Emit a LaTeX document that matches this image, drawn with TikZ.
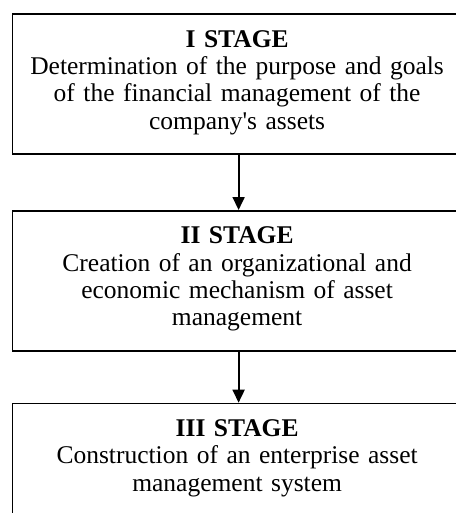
\documentclass[tikz,border=0pt]{standalone}
\usepackage{fontspec}
\setmainfont{Liberation Serif}
\usepackage{tikz}
\usetikzlibrary{arrows.meta}
\usetikzlibrary{positioning}

\begin{document}
\begin{tikzpicture}[x=1pt, y=-1pt,
    stage/.style={draw, line width=1.7pt, text width=440pt, inner xsep=4.75pt, inner ysep=0pt, align=center, text height=33pt, text depth=107pt, font=\fontsize{25.5}{27.3}\selectfont},
    flow/.style={line width=1.8pt, -{Triangle[length=13pt, width=12pt]}}]
    \useasboundingbox (0, 0) rectangle (455, 513);

    \node [stage, anchor=north west] (stageone) at (11.5, 13.3) {\textbf{I STAGE}\\Determination of the purpose and goals\\of the financial management of the\\company\textquotesingle s assets};
    \node [stage, below=55pt of stageone] (stagetwo) {\textbf{II STAGE}\\Creation of an organizational and\\economic mechanism of asset\\management};
    \node [stage, below=51pt of stagetwo] (stagethree) {\textbf{III STAGE}\\Construction of an enterprise asset\\management system};

    \draw [flow] ([xshift=1.5pt]stageone.south) -- ([xshift=1.5pt]stagetwo.north);
    \draw [flow] ([xshift=1.5pt]stagetwo.south) -- ([xshift=1.5pt]stagethree.north);
\end{tikzpicture}
\end{document}
